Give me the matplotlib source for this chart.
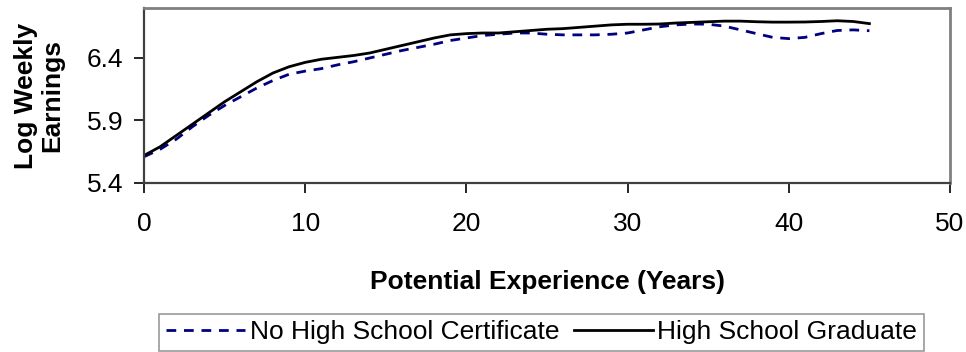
import matplotlib
matplotlib.use("Agg")
import matplotlib.pyplot as plt

years = list(range(0, 46))
no_hs = [5.61, 5.67, 5.75, 5.85, 5.94, 6.02, 6.09, 6.16, 6.22, 6.27,
         6.295, 6.315, 6.345, 6.37, 6.40, 6.43, 6.46, 6.485, 6.51, 6.54,
         6.56, 6.58, 6.59, 6.60, 6.60, 6.59, 6.585, 6.585, 6.585, 6.59,
         6.60, 6.625, 6.65, 6.665, 6.672, 6.67, 6.655, 6.625, 6.595, 6.565,
         6.555, 6.565, 6.595, 6.62, 6.625, 6.618]
hs_grad = [5.62, 5.69, 5.78, 5.87, 5.96, 6.05, 6.13, 6.21, 6.28, 6.33,
           6.365, 6.39, 6.405, 6.42, 6.44, 6.47, 6.50, 6.53, 6.56, 6.585,
           6.595, 6.60, 6.60, 6.61, 6.62, 6.63, 6.635, 6.645, 6.655, 6.665,
           6.67, 6.67, 6.672, 6.68, 6.685, 6.69, 6.695, 6.695, 6.69, 6.687,
           6.687, 6.688, 6.692, 6.698, 6.692, 6.675]
xticks = [0, 10, 20, 30, 40, 50]
yticks = [5.4, 5.9, 6.4]

plt.rcParams['font.family'] = ['Liberation Sans', 'DejaVu Sans']
FS = 19

fig = plt.figure(figsize=(9.66, 3.52), dpi=100)
ax = fig.add_axes([144/966, 1-183/352, (950-144)/966, (183-8)/352])

ax.plot(years, no_hs, color='#000080', lw=2.0, ls=(0, (3.5, 2.8)),
        label='No High School Certificate')
ax.plot(years, hs_grad, color='black', lw=2.0, label='High School Graduate')

ax.set_xlim(0, 50)
ax.set_ylim(5.4, 6.8)
ax.set_xticks(xticks)
ax.set_yticks(yticks)
ax.set_yticklabels([f"{v:.1f}" for v in yticks])
ax.tick_params(axis='both', labelsize=FS, length=7, width=1.2, color='black', direction='out')
ax.tick_params(axis='x', pad=14)
ax.tick_params(axis='y', pad=8)

for s in ['top', 'right']:
    ax.spines[s].set_color('#808080')
    ax.spines[s].set_linewidth(2)
for s in ['left', 'bottom']:
    ax.spines[s].set_color('#404040')
    ax.spines[s].set_linewidth(1.6)

ax.set_xlabel('Potential Experience (Years)', fontsize=FS, fontweight='bold', labelpad=24)
ax.set_ylabel('Log Weekly\nEarnings', fontsize=FS, fontweight='bold', labelpad=16,
              linespacing=1.1)

leg = fig.legend(loc='lower center', bbox_to_anchor=(541.5/966, 1/352),
                 ncol=2, fontsize=FS, frameon=True, fancybox=False,
                 handlelength=3.0, handletextpad=0.18, borderaxespad=0.0, columnspacing=0.55,
                 borderpad=0.25)
leg.get_frame().set_edgecolor('#808080')
leg.get_frame().set_linewidth(1.2)

fig.savefig('out.png', dpi=100)
